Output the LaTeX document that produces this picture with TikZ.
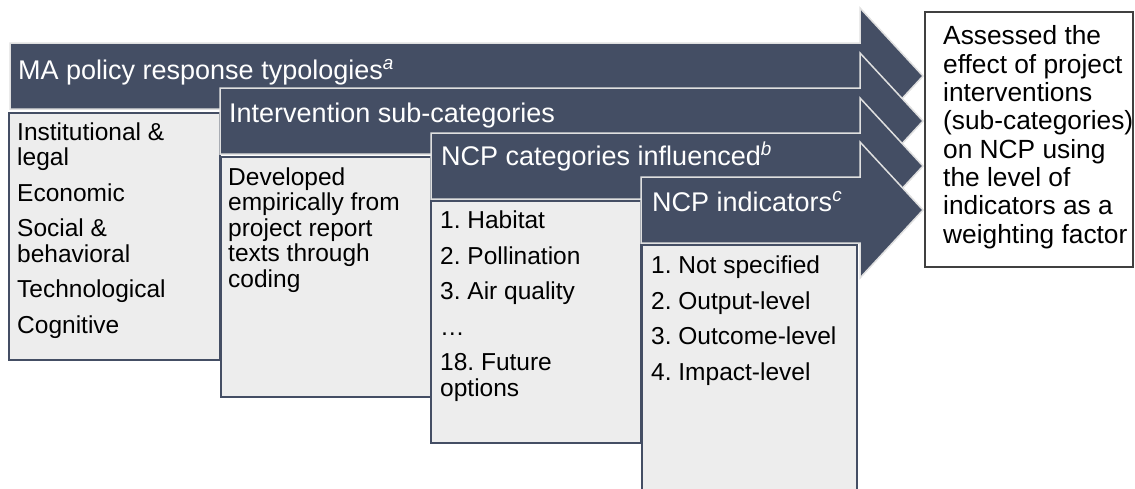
\documentclass[tikz,border=0pt]{standalone}
\usepackage{fontspec}
\setmainfont{Liberation Sans}
\frenchspacing
\definecolor{slate}{RGB}{68,78,100}
\definecolor{boxgrey}{RGB}{237,237,237}
\newcommand{\stagearrow}[2]{\draw[stage] (#1,#2-33) -- (860,#2-33) -- (860,#2-68) -- (923,#2) -- (860,#2+68) -- (860,#2+33) -- (#1,#2+33) -- cycle;}
\begin{document}
\begin{tikzpicture}[x=1pt,y=-1pt]
	\tikzstyle{stage}=[fill=slate, draw=black!12, line width=1.5pt, line join=miter]
	\tikzstyle{listbox}=[fill=boxgrey, draw=slate, line width=2pt]
	\tikzstyle{head}=[anchor=base west, inner sep=0pt, text=white, font=\fontsize{27}{30}\selectfont]
	\tikzstyle{items}=[anchor=base west, inner sep=0pt, align=left, font=\fontsize{24.5}{25.5}\selectfont]
	\useasboundingbox (0,0) rectangle (1135,488);
	\stagearrow{10}{76}
	\node[head] (h1) at (18,79) {MA policy response typologies\textsuperscript{\itshape a}};
	\draw[listbox] (9,113) rectangle (220,360);
	\node[items] (l1) at (17,333) {Institutional \&\\legal\\[10pt]Economic\\[10pt]Social \&\\behavioral\\[10pt]Technological\\[10pt]Cognitive};
	\stagearrow{220}{121}
	\node[head] (h2) at (229,122) {Intervention sub-categories};
	\draw[listbox] (221,157) rectangle (431,397);
	\node[items] (l2) at (228,287) {Developed\\empirically from\\project report\\texts through\\coding};
	\stagearrow{431}{166}
	\node[head] (h3) at (441,165) {NCP categories influenced\textsuperscript{\itshape b}};
	\draw[listbox] (431,201) rectangle (641,443);
	\node[items] (l3) at (440,396) {1. Habitat\\[10pt]2. Pollination\\[10pt]3. Air quality\\[10pt]…\\[10pt]18. Future\\options};
	\stagearrow{641}{210}
	\node[head] (h4) at (652,211) {NCP indicators\textsuperscript{\itshape c}};
	\draw[listbox] (642,245) rectangle (857,495);
	\node[items] (l4) at (651,380) {1. Not specified\\[10pt]2. Output-level\\[10pt]3. Outcome-level\\[10pt]4. Impact-level};
	\draw[fill=white, draw=black!75, line width=1.2pt] (925,12) rectangle (1133,267);
	\node[items, font=\fontsize{26.3}{28.3}\selectfont] (effect) at (943,243) {Assessed the\\effect of project\\interventions\\(sub-categories)\\on NCP using\\the level of\\indicators as a\\weighting factor};
\end{tikzpicture}
\end{document}
